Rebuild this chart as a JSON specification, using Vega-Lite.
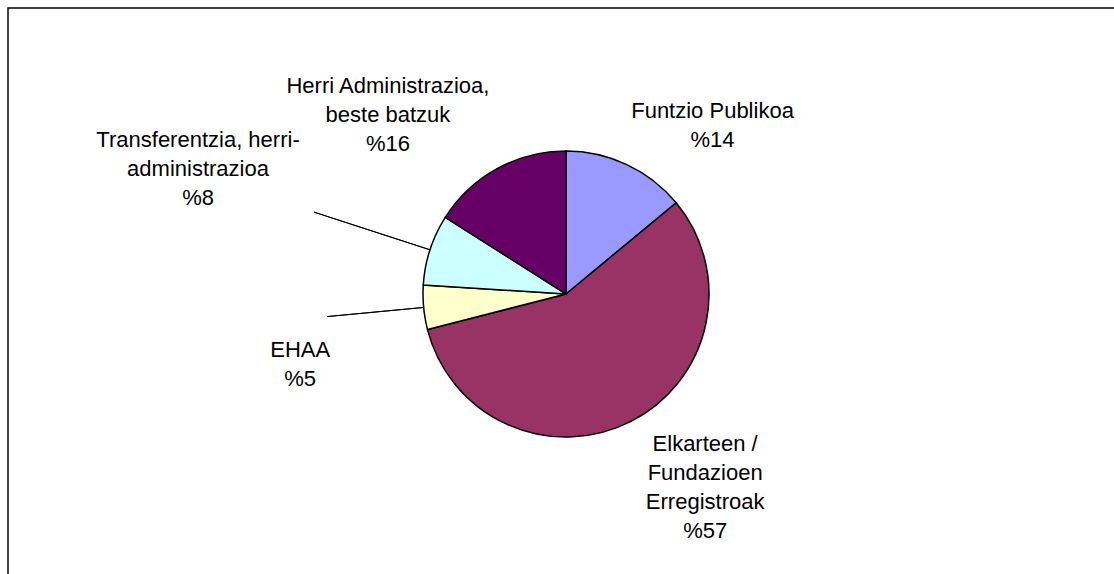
{
  "$schema": "https://vega.github.io/schema/vega-lite/v6.json",
  "width": 1116,
  "height": 572,
  "autosize": "none",
  "padding": {"left": 8, "top": 8, "right": 0, "bottom": 0},
  "background": "white",
  "config": {"view": {"stroke": null}},
  "datasets": {
    "slices": [
      {"n": 1, "name": "Funtzio Publikoa", "text": "Funtzio Publikoa\n%14", "value": 14},
      {"n": 2, "name": "Elkarteen / Fundazioen Erregistroak", "text": "Elkarteen /\nFundazioen\nErregistroak\n%57", "value": 57},
      {"n": 3, "name": "EHAA", "text": "EHAA\n%5", "value": 5},
      {"n": 4, "name": "Transferentzia, herri-administrazioa", "text": "Transferentzia, herri-\nadministrazioa\n%8", "value": 8},
      {"n": 5, "name": "Herri Administrazioa, beste batzuk", "text": "Herri Administrazioa,\nbeste batzuk\n%16", "value": 16}
    ],
    "frame": [{"frame": "chart"}]
  },
  "layer": [
    {
      "data": {"name": "frame"},
      "mark": {"type": "rect", "fill": "white", "fillOpacity": 0, "stroke": "black", "strokeWidth": 1.5},
      "encoding": {}
    },
    {
      "data": {"name": "slices"},
      "encoding": {
        "theta": {"field": "value", "type": "quantitative", "stack": true},
        "order": {"field": "n", "type": "quantitative"}
      },
      "layer": [
        {
          "mark": {"type": "arc", "radius": 143, "stroke": "black", "strokeWidth": 1.5},
          "encoding": {
            "color": {
              "field": "name", "type": "nominal", "legend": null,
              "scale": {
                "domain": ["Funtzio Publikoa", "Elkarteen / Fundazioen Erregistroak", "EHAA", "Transferentzia, herri-administrazioa", "Herri Administrazioa, beste batzuk"],
                "range": ["#9999FF", "#993366", "#FFFFCC", "#CCFFFF", "#660066"]
              }
            }
          }
        },
        {
          "mark": {"type": "arc", "radius": 240, "radius2": 143, "padAngle": 1.5, "fill": "white", "fillOpacity": 0, "stroke": "black", "strokeWidth": 1},
          "encoding": {
            "detail": {"field": "name", "type": "nominal"},
            "strokeOpacity": {"condition": {"test": "datum.n === 3", "value": 1}, "value": 0}
          }
        },
        {
          "mark": {"type": "arc", "radius": 265, "radius2": 143, "padAngle": 1.5, "fill": "white", "fillOpacity": 0, "stroke": "black", "strokeWidth": 1},
          "encoding": {
            "detail": {"field": "name", "type": "nominal"},
            "strokeOpacity": {"condition": {"test": "datum.n === 4", "value": 1}, "value": 0}
          }
        },
        {
          "mark": {"type": "text", "radius": 215, "dx": 55, "dy": 12, "font": "Liberation Sans", "fontSize": 22, "lineHeight": 29, "lineBreak": "\n", "align": "center", "baseline": "middle", "color": "black"},
          "encoding": {
            "detail": {"field": "name", "type": "nominal"},
            "text": {"condition": {"test": "datum.n === 1", "field": "text", "type": "nominal"}, "value": ""}
          }
        },
        {
          "mark": {"type": "text", "radius": 236, "dx": 32, "dy": -60, "font": "Liberation Sans", "fontSize": 22, "lineHeight": 29, "lineBreak": "\n", "align": "center", "baseline": "middle", "color": "black"},
          "encoding": {
            "detail": {"field": "name", "type": "nominal"},
            "text": {"condition": {"test": "datum.n === 2", "field": "text", "type": "nominal"}, "value": ""}
          }
        },
        {
          "mark": {"type": "text", "radius": 271, "dx": 4, "dy": 30, "font": "Liberation Sans", "fontSize": 22, "lineHeight": 29, "lineBreak": "\n", "align": "center", "baseline": "middle", "color": "black"},
          "encoding": {
            "detail": {"field": "name", "type": "nominal"},
            "text": {"condition": {"test": "datum.n === 3", "field": "text", "type": "nominal"}, "value": ""}
          }
        },
        {
          "mark": {"type": "text", "radius": 389, "dx": 2, "dy": -34, "font": "Liberation Sans", "fontSize": 22, "lineHeight": 29, "lineBreak": "\n", "align": "center", "baseline": "middle", "color": "black"},
          "encoding": {
            "detail": {"field": "name", "type": "nominal"},
            "text": {"condition": {"test": "datum.n === 4", "field": "text", "type": "nominal"}, "value": ""}
          }
        },
        {
          "mark": {"type": "text", "radius": 243, "dx": -61, "dy": 5, "font": "Liberation Sans", "fontSize": 22, "lineHeight": 29, "lineBreak": "\n", "align": "center", "baseline": "middle", "color": "black"},
          "encoding": {
            "detail": {"field": "name", "type": "nominal"},
            "text": {"condition": {"test": "datum.n === 5", "field": "text", "type": "nominal"}, "value": ""}
          }
        }
      ]
    }
  ]
}
